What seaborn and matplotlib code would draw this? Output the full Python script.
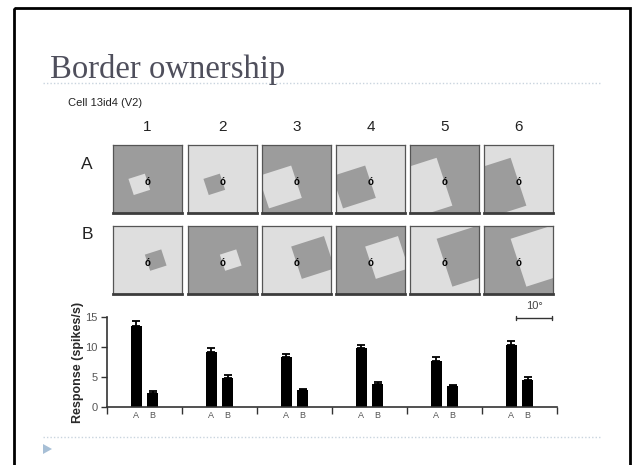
import numpy as np
import pandas as pd
import matplotlib
matplotlib.use("Agg")
import matplotlib.pyplot as plt
from matplotlib.patches import Polygon, Rectangle
import seaborn as sns

# ---- data -------------------------------------------------------------
conditions = ["1", "2", "3", "4", "5", "6"]
sides = ["A", "B"]
response_A = [13.5, 9.2, 8.4, 9.9, 7.7, 10.3]
response_B = [2.3, 4.8, 2.8, 3.8, 3.4, 4.4]
sem_A = [0.9, 0.7, 0.4, 0.5, 0.7, 0.75]
sem_B = [0.4, 0.5, 0.1, 0.4, 0.3, 0.5]
y_ticks = [0, 5, 10, 15]

# stimulus description: square size (fraction of panel), figure colour per row
square_size = [0.25, 0.25, 0.5, 0.5, 0.74, 0.74]
figure_is_light_A = [True, False, True, False, True, False]
figure_is_light_B = [False, True, False, True, False, True]
edge_angle_deg = 18

# ---- style ------------------------------------------------------------
sns.set_theme(style="white")
plt.rcParams["font.family"] = ["Liberation Sans", "DejaVu Sans"]

W, H = 634, 465
fig = plt.figure(figsize=(W / 100, H / 100), dpi=100)
fig.patch.set_facecolor("white")

def frac(x0, y0, w, h):
    """pixel box (top-left origin) -> figure fraction rect"""
    return [x0 / W, 1 - (y0 + h) / H, w / W, h / H]

# overlay in pixel coordinates for slide decorations
ov = fig.add_axes([0, 0, 1, 1])
ov.set_xlim(0, W)
ov.set_ylim(H, 0)
ov.axis("off")

# slide frame
ov.add_patch(Rectangle((14, 8), 615.5, 480, fill=False, lw=2.0, ec="black"))
# title and separators
ov.text(50, 78, "Border ownership", fontsize=23.6, color="#4f4f5c",
        family=["Liberation Serif", "DejaVu Serif"], va="baseline")
ov.plot([43, 601], [83.5, 83.5], ls=(0, (1, 1.5)), lw=1, color="#c9d4de")
ov.plot([43, 601], [437, 437], ls=(0, (1, 1.5)), lw=1, color="#c9d4de")
ov.add_patch(Polygon([[43, 444], [43, 454], [52, 449]], closed=True,
                     fc="#a7bfd6", ec="none"))

ov.text(68, 106, "Cell 13id4 (V2)", fontsize=8, color="#222222", va="baseline")

# ---- stimulus panels --------------------------------------------------
DARK, LIGHT = "#9c9c9c", "#dedede"
col_x = [113, 188, 262, 336, 410, 484]
row_y = {"A": 145, "B": 226}
pw, ph = 69, 68
fix = np.array([0.5, 0.46])
th = np.deg2rad(edge_angle_deg)
rot = np.array([[np.cos(th), -np.sin(th)], [np.sin(th), np.cos(th)]])
normal = rot @ np.array([1.0, 0.0])

for row, light_list, side in (("A", figure_is_light_A, -1),
                              ("B", figure_is_light_B, 1)):
    for c, (x0, s, fig_light) in enumerate(zip(col_x, square_size, light_list)):
        ax = fig.add_axes(frac(x0, row_y[row], pw, ph))
        ax.set_xlim(0, 1)
        ax.set_ylim(0, 1)
        ax.set_xticks([])
        ax.set_yticks([])
        ax.set_facecolor(DARK if fig_light else LIGHT)
        centre = fix + side * (s / 2) * normal
        corners = np.array([[-1, -1], [1, -1], [1, 1], [-1, 1]]) * (s / 2)
        poly = centre + corners @ rot.T
        ax.add_patch(Polygon(poly, closed=True, fc=LIGHT if fig_light else DARK,
                             ec="none"))
        ax.text(fix[0], fix[1], "ó", fontsize=7, fontweight="bold",
                ha="center", va="center", color="black")
        for sp in ax.spines.values():
            sp.set_visible(True)
            sp.set_color("#555555")
            sp.set_linewidth(0.9)
        ax.spines["bottom"].set_linewidth(2.0)
        ax.spines["bottom"].set_color("#3c3c3c")

for x0, lab in zip(col_x, conditions):
    ov.text(x0 + pw / 2, 127, lab, fontsize=11, ha="center", va="center",
            color="#222222")
ov.text(87, 164, "A", fontsize=12.5, ha="center", va="center", color="#222222")
ov.text(87, 234.5, "B", fontsize=12.5, ha="center", va="center", color="#222222")

# scale bar
ov.plot([516, 552], [318, 318], color="#333333", lw=1)
ov.plot([516, 516], [316, 320], color="#333333", lw=1)
ov.plot([552, 552], [316, 320], color="#333333", lw=1)
ov.text(534, 309, "10°", fontsize=8, ha="center", va="baseline", color="#444444")

# ---- bar chart --------------------------------------------------------
df = pd.DataFrame({
    "condition": conditions * 2,
    "side": ["A"] * len(conditions) + ["B"] * len(conditions),
    "response": response_A + response_B,
    "sem": sem_A + sem_B,
})

bx = fig.add_axes(frac(107, 317.3, 450, 89.4))
sns.barplot(data=df, x="condition", y="response", hue="side", order=conditions,
            hue_order=sides, palette={"A": "black", "B": "black"},
            width=0.43, gap=0.3, legend=False, errorbar=None, ax=bx,
            edgecolor="none", saturation=1)

# one-sided error bars on top of each bar
centres, tops = [], []
for p in bx.patches:
    centres.append(p.get_x() + p.get_width() / 2)
    tops.append(p.get_height())
errs = df["sem"].tolist()
bx.errorbar(centres, tops, yerr=[np.zeros(len(errs)), errs], fmt="none",
            ecolor="black", elinewidth=1.3, capsize=3, capthick=1.3)

bx.set_xlim(-0.5, len(conditions) - 0.5)
bx.set_ylim(0, 15)
bx.set_yticks(y_ticks)
bx.set_yticklabels([str(t) for t in y_ticks])
bx.set_xticks(centres)
bx.set_xticklabels([lab for lab in df["side"]])
bx.set_xticks(np.arange(-0.5, len(conditions)), minor=True)
bx.tick_params(axis="x", which="major", length=0, pad=3, labelsize=6.5,
               labelcolor="#555555")
bx.tick_params(axis="x", which="minor", length=5, width=1, direction="out",
               color="#333333", bottom=True)
bx.tick_params(axis="y", length=4, width=1, direction="out", color="#333333",
               labelsize=8, labelcolor="#555555", pad=3, left=True)
bx.set_xlabel("")
bx.set_ylabel("Response (spikes/s)", fontsize=9, fontweight="bold",
              color="#2a2a2a")
bx.yaxis.set_label_coords(-0.05, 0.5)
for sp in ("top", "right"):
    bx.spines[sp].set_visible(False)
for sp in ("left", "bottom"):
    bx.spines[sp].set_color("#333333")
    bx.spines[sp].set_linewidth(1.2)
bx.set_facecolor("none")

fig.savefig("out.png", dpi=100, facecolor="white")
